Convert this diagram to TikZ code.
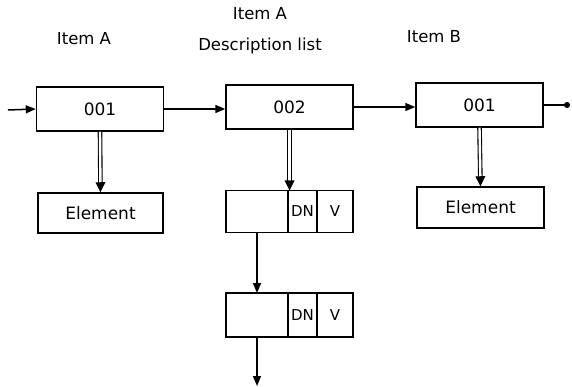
\documentclass[tikz,border=0pt]{standalone}
\usepackage{fontspec}
\setmainfont{DejaVu Sans}
\usetikzlibrary{arrows.meta,positioning,decorations.markings}

\begin{document}
\begin{tikzpicture}[x=1pt, y=-1pt, line width=1.5pt,
    box/.style={draw, rectangle, minimum width=127pt, minimum height=44pt, inner sep=0pt, font=\fontsize{17}{20}\selectfont},
    cell/.style={draw, rectangle, minimum height=42pt, inner sep=0pt, outer sep=0pt, font=\fontsize{15}{18}\selectfont},
    title/.style={font=\fontsize{16.5}{31}\selectfont, align=center},
    link/.style={-{Triangle[length=10pt,width=8pt]}},
    dbl/.style={double, double distance=2.4pt, line width=1.1pt, shorten >=7pt,
        postaction={decorate, decoration={markings,
            mark=at position 1 with {\fill[black] (0pt,0pt) -- (-10pt,5pt) -- (-10pt,-5pt) -- cycle;}}}}]
    \useasboundingbox (0,0) rectangle (572,387);

    % Titles
    \node[title] (tA) at (84,39) {Item A};
    \node[title] (tD) at (260,31) {Item A\\Description list};
    \node[title] (tB) at (434,37) {Item B};

    % Chain of items
    \node[box] (b1) at (100,109) {001};
    \node[box] (b2) at (289.5,107) {002};
    \node[box] (b3) at (479.5,105) {001};
    \coordinate (in) at (8,110);
    \coordinate (out) at (570,105);

    % Elements
    \node[box, minimum width=125pt, minimum height=40pt] (e1) at (100.5,213) {Element};
    \node[box, minimum height=41pt] (e3) at (480.5,207.5) {Element};

    % Description list
    \node[cell, minimum width=62pt] (da1) at (257,211.5) {};
    \node[cell, minimum width=29pt, right=0pt of da1] (dn1) {DN};
    \node[cell, minimum width=36pt, right=0pt of dn1] (dv1) {V};
    \node[cell, minimum width=62pt, minimum height=44pt] (da2) at (257,315) {};
    \node[cell, minimum width=29pt, minimum height=44pt, right=0pt of da2] (dn2) {DN};
    \node[cell, minimum width=36pt, minimum height=44pt, right=0pt of dn2] (dv2) {V};
    \coordinate (tail) at (257,386);

    % Connectors
    \draw[link] (in) -- (b1.west);
    \draw[link] (b1.east) -- (b1.east -| b2.west);
    \draw[link] (b2.east) -- (b2.east -| b3.west);
    \draw[-{Circle[length=6pt]}] (b3.east) -- (out);
    \draw[dbl] (b1.south) -- (e1.north);
    \draw[dbl] (b3.south) -- (e3.north);
    \draw[dbl] (b2.south) -- (b2.south |- da1.north);
    \draw[link] (da1.south) -- (da2.north);
    \draw[link] (da2.south) -- (tail);
\end{tikzpicture}
\end{document}
